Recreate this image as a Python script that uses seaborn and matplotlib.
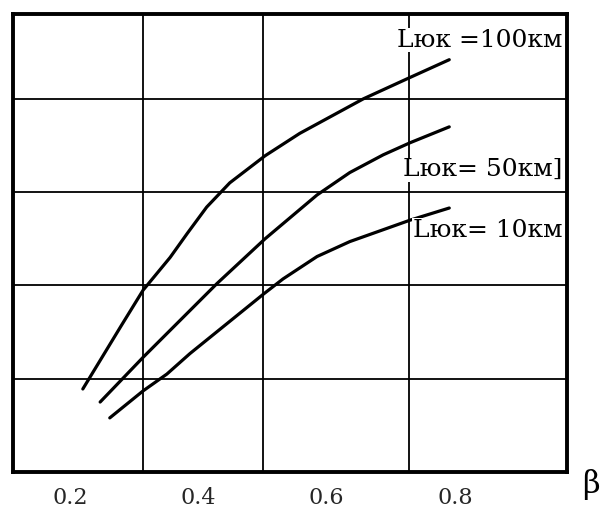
import numpy as np
import pandas as pd
import seaborn as sns
import matplotlib.pyplot as plt

# curve data (beta vs value, y in grid units)
beta_100 = [0.220, 0.280, 0.314, 0.356, 0.383, 0.413, 0.449, 0.504, 0.558, 0.657, 0.730, 0.791]
val_100 = [0.89, 1.57, 1.95, 2.30, 2.56, 2.84, 3.10, 3.39, 3.63, 4.00, 4.23, 4.42]

beta_50 = [0.247, 0.314, 0.429, 0.504, 0.585, 0.636, 0.688, 0.730, 0.791]
val_50 = [0.75, 1.23, 2.02, 2.50, 2.97, 3.21, 3.40, 3.53, 3.70]

beta_10 = [0.262, 0.314, 0.351, 0.387, 0.502, 0.532, 0.585, 0.636, 0.730, 0.791]
val_10 = [0.58, 0.87, 1.05, 1.27, 1.91, 2.07, 2.31, 2.47, 2.70, 2.83]

labels = ["Lюк =100км", "Lюк= 50км]", "Lюк= 10км"]
xticks = [0.2, 0.4, 0.6, 0.8]
xticklabels = ["0.2", "0.4", "0.6", "0.8"]

df = pd.concat([
    pd.DataFrame({"beta": beta_100, "val": val_100, "L": labels[0]}),
    pd.DataFrame({"beta": beta_50, "val": val_50, "L": labels[1]}),
    pd.DataFrame({"beta": beta_10, "val": val_10, "L": labels[2]}),
])

sns.set_style("white")

fig = plt.figure(figsize=(6.03, 5.15), dpi=100)
ax = fig.add_axes([13 / 603, 1 - 472 / 515, 554 / 603, 458 / 515])

# grid lines (positions as drawn in the original)
for gx in [0.3138, 0.5008, 0.7283]:
    ax.axvline(gx, color="black", lw=1.3, zorder=1)
for gy in [1, 2, 3, 4]:
    ax.axhline(gy, color="black", lw=1.3, zorder=1)

sns.lineplot(data=df, x="beta", y="val", hue="L", units="L", estimator=None,
             sort=False, palette=["black"] * 3, lw=2.3, legend=False, ax=ax,
             zorder=3)

ax.set_xlim(0.1112, 0.9745)
ax.set_ylim(0, 4.91)
ax.set_xticks(xticks)
ax.set_xticklabels(xticklabels, family="DejaVu Serif", fontsize=16)
ax.set_yticks([])
ax.tick_params(axis="x", length=0, pad=11)
ax.set_xlabel("")
ax.set_ylabel("")

for side in ["left", "right", "top", "bottom"]:
    ax.spines[side].set_visible(True)
    ax.spines[side].set_color("black")
    ax.spines[side].set_linewidth(2.8)

# curve labels
label_y = [4.63, 3.24, 2.59]
for lab, yy in zip(labels, label_y):
    ax.text(0.967, yy, lab, ha="right", va="center", family="DejaVu Serif",
            fontsize=18, color="black", zorder=4,
            bbox=dict(facecolor="white", edgecolor="none", pad=0.5))

fig.text(600 / 603, 1 - 485 / 515, "β", ha="right", va="center",
         family="DejaVu Serif", fontsize=22, color="black")

fig.savefig("out.png", dpi=100)
